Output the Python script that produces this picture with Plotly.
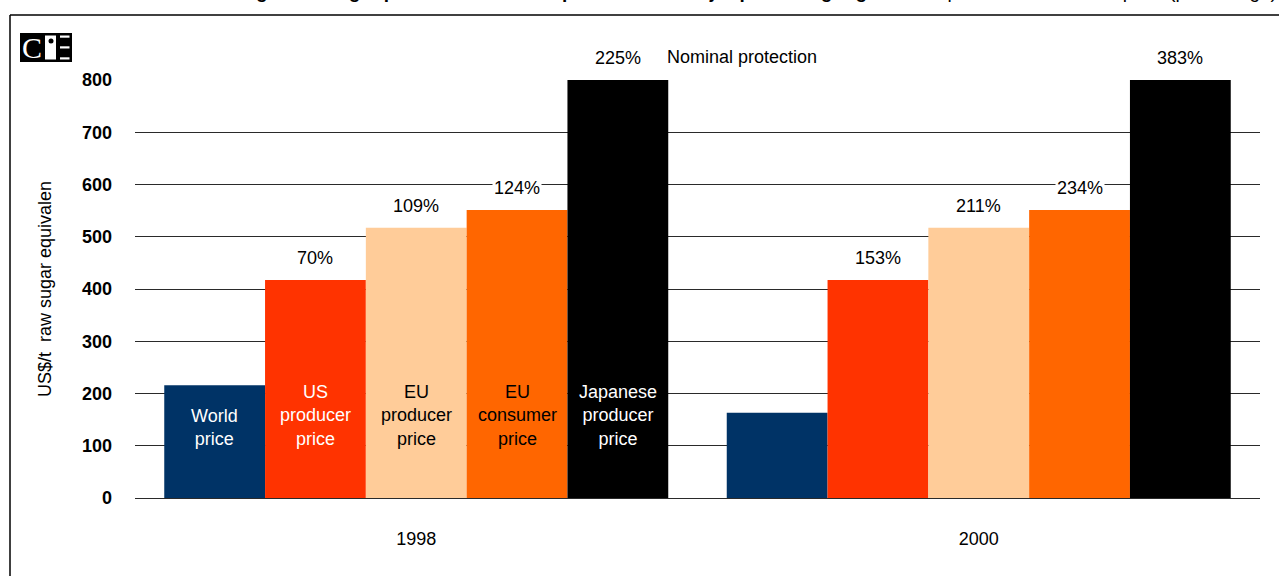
import plotly.graph_objects as go

# ---------------- data ----------------
years = ["1998", "2000"]
series_names = ["World price", "US producer price", "EU producer price",
                "EU consumer price", "Japanese producer price"]
world_price = [216, 163]
us_producer = [417, 417]
eu_producer = [517, 517]
eu_consumer = [551, 551]
japan_producer = [880, 950]
protection_us = ["70%", "153%"]
protection_eu_prod = ["109%", "211%"]
protection_eu_cons = ["124%", "234%"]
protection_japan = ["225%", "383%"]
inbar_labels = ["World<br>price", "US<br>producer<br>price", "EU<br>producer<br>price",
                "EU<br>consumer<br>price", "Japanese<br>producer<br>price"]
y_ticks = [0, 100, 200, 300, 400, 500, 600, 700, 800]

# ---------------- style ----------------
colors = ["#003366", "#FF3300", "#FFCC99", "#FF6600", "#000000"]
inbar_font_colors = ["white", "white", "black", "black", "white"]
FONT = "Liberation Sans, Arial, sans-serif"
W, H = 1279, 576
L, R, T, B = 135, 19, 80, 78
BARGAP = 0.104
plot_w = W - L - R
plot_h = H - T - B
YMAX = 800


def px_x(px):
    return (px - L) / plot_w


def px_y(py):
    return (H - B - py) / plot_h


values = [world_price, us_producer, eu_producer, eu_consumer, japan_producer]
protections = [None, protection_us, protection_eu_prod, protection_eu_cons, protection_japan]

fig = go.Figure()
for name, vals, col in zip(series_names, values, colors):
    fig.add_trace(go.Bar(x=years, y=vals, name=name, marker=dict(color=col, line=dict(width=0)),
                         showlegend=False, hoverinfo="name+y"))

# bar geometry (pixel offsets of each bar within a group)
cat_w = plot_w / len(years)
bar_w = cat_w * (1 - BARGAP) / len(series_names)
offsets = [(i - (len(series_names) - 1) / 2) * bar_w for i in range(len(series_names))]

annotations = []
# protection labels above bars (x given as category index)
for i, (vals, prot) in enumerate(zip(values, protections)):
    if prot is None:
        continue
    for j in range(len(years)):
        v = min(vals[j], YMAX)
        annotations.append(dict(x=j, y=v, xref="x", yref="y", text=prot[j], showarrow=False,
                                xshift=offsets[i], yanchor="bottom", yshift=10,
                                bgcolor="white", borderpad=1,
                                font=dict(family=FONT, size=18, color="black")))
annotations.append(dict(x=0, y=min(japan_producer[0], YMAX), xref="x", yref="y",
                        text="Nominal protection", showarrow=False, xanchor="left",
                        xshift=offsets[4] + bar_w / 2 - 3, yanchor="bottom", yshift=11,
                        font=dict(family=FONT, size=18, color="black")))
# in-bar series labels for first year
for i, (lab, fc) in enumerate(zip(inbar_labels, inbar_font_colors)):
    annotations.append(dict(x=0, y=90, xref="x", yref="y", text=lab, showarrow=False,
                            xshift=offsets[i], yanchor="bottom",
                            font=dict(family=FONT, size=18, color=fc)))
# cut-off title at top (the reference shows only its lowest part)
annotations.append(dict(x=px_x(W), y=px_y(4), xref="paper", yref="paper", xanchor="right",
                        yanchor="bottom", showarrow=False,
                        text="<b>Figure 1: Sugar prices and nominal protection in major producing regions</b> compared with the world price (percentage)",
                        font=dict(family=FONT, size=19, color="black")))
# logo letter
annotations.append(dict(x=px_x(31.5), y=px_y(47.5), xref="paper", yref="paper", text="C",
                        xanchor="center", yanchor="middle", showarrow=False,
                        font=dict(family="Liberation Serif, serif", size=30, color="white")))

shapes = []
# frame (left and top edges)
shapes.append(dict(type="line", xref="paper", yref="paper", x0=px_x(10), x1=px_x(10),
                   y0=px_y(H + 5), y1=px_y(15), line=dict(color="black", width=1.5)))
shapes.append(dict(type="line", xref="paper", yref="paper", x0=px_x(10), x1=px_x(W + 5),
                   y0=px_y(15), y1=px_y(15), line=dict(color="black", width=1.5)))
# logo
shapes.append(dict(type="rect", xref="paper", yref="paper", x0=px_x(20), x1=px_x(72),
                   y0=px_y(62), y1=px_y(33), fillcolor="black", line=dict(width=0), layer="below"))
shapes.append(dict(type="rect", xref="paper", yref="paper", x0=px_x(45), x1=px_x(56),
                   y0=px_y(59.5), y1=px_y(35.5), fillcolor="white", line=dict(width=0), layer="below"))
shapes.append(dict(type="circle", xref="paper", yref="paper", x0=px_x(48.5), x1=px_x(53.5),
                   y0=px_y(43.5), y1=px_y(38.5), fillcolor="black", line=dict(width=0), layer="below"))
for yy in (35.5, 46.3, 57.3):
    shapes.append(dict(type="rect", xref="paper", yref="paper", x0=px_x(60), x1=px_x(69.5),
                       y0=px_y(yy + 2.2), y1=px_y(yy), fillcolor="white", line=dict(width=0),
                       layer="below"))

fig.update_layout(
    width=W, height=H,
    margin=dict(l=L, r=R, t=T, b=B, pad=0),
    paper_bgcolor="white", plot_bgcolor="white",
    barmode="group", bargap=BARGAP, bargroupgap=0,
    font=dict(family=FONT, size=18, color="black"),
    xaxis=dict(type="category", range=[-0.5, len(years) - 0.5], showgrid=False, showline=False,
               zeroline=False, ticks="",
               tickfont=dict(family=FONT, size=18, color="black"), ticklabelstandoff=28),
    yaxis=dict(range=[0, YMAX], tickvals=y_ticks, showgrid=True, gridcolor="#2a2a2a", gridwidth=1,
               zeroline=True, zerolinecolor="#2a2a2a", zerolinewidth=1, showline=False, ticks="",
               tickfont=dict(family=FONT, size=18, color="black", weight="bold"),
               ticklabelstandoff=22,
               title=dict(text="US$/t  raw sugar equivalen", standoff=25,
                          font=dict(family=FONT, size=18, color="black"))),
    annotations=annotations,
    shapes=shapes,
)

fig.write_html("out.html")
